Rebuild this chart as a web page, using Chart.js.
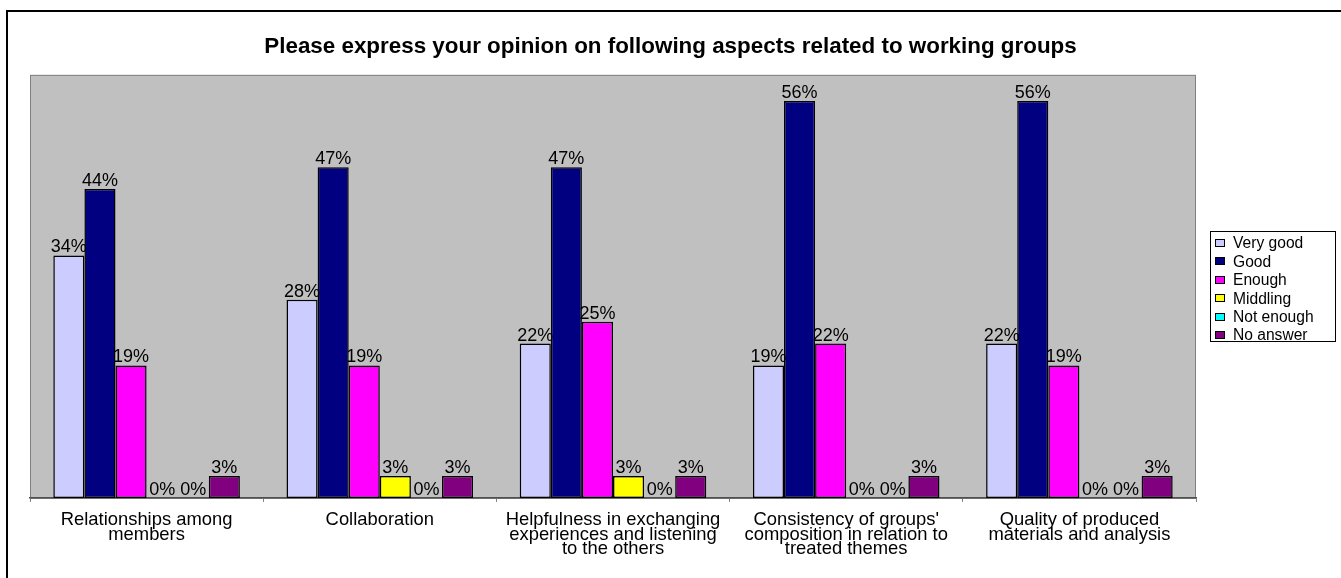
<!DOCTYPE html>
<html>
<head>
<meta charset="utf-8">
<script src="https://cdn.jsdelivr.net/npm/chart.js@4/dist/chart.umd.min.js"></script>
<style>
    html, body { margin: 0; padding: 0; background: #fff; }
    #wrap { position: relative; width: 1341px; height: 578px; }
</style>
</head>
<body>
<div id="wrap"><canvas id="opinionChart"></canvas></div>
<script>
const categories = [
    ['Relationships among', 'members'],
    'Collaboration',
    ['Helpfulness in exchanging', 'experiences and listening', 'to the others'],
    ['Consistency of groups\'', 'composition in relation to', 'treated themes'],
    ['Quality of produced', 'materials and analysis']
];

const seriesNames = ['Very good', 'Good', 'Enough', 'Middling', 'Not enough', 'No answer'];
const seriesColors = ['#CCCCFF', '#000080', '#FF00FF', '#FFFF00', '#00FFFF', '#800080'];

// percentages (labels show the rounded value)
const veryGood = [34.4, 28.1, 21.9, 18.8, 21.9];
const good = [43.8, 46.9, 46.9, 56.3, 56.3];
const enough = [18.8, 18.8, 25.0, 21.9, 18.8];
const middling = [0, 3.1, 3.1, 0, 0];
const notEnough = [0, 0, 0, 0, 0];
const noAnswer = [3.1, 3.1, 3.1, 3.1, 3.1];

const seriesValues = [veryGood, good, enough, middling, notEnough, noAnswer];

const FONT = 'Arial, "Liberation Sans", sans-serif';

// outer frame + grey plot area
const backdropPlugin = {
    id: 'backdrop',
    beforeDraw(chart) {
        const ctx = chart.ctx;
        const a = chart.chartArea;
        ctx.save();
        ctx.strokeStyle = '#000';
        ctx.lineWidth = 2;
        ctx.strokeRect(7, 11, 1400, 1000);
        ctx.fillStyle = '#C0C0C0';
        ctx.fillRect(a.left, a.top, a.right - a.left, a.bottom - a.top);
        ctx.strokeStyle = '#808080';
        ctx.lineWidth = 1;
        ctx.strokeRect(a.left + 0.5, a.top + 0.5, a.right - a.left - 1, a.bottom - a.top);
        ctx.restore();
    }
};

// value labels above each bar
const valueLabelPlugin = {
    id: 'valueLabels',
    afterDatasetsDraw(chart) {
        const ctx = chart.ctx;
        ctx.save();
        ctx.font = '18px ' + FONT;
        ctx.fillStyle = '#000';
        ctx.textAlign = 'center';
        ctx.textBaseline = 'alphabetic';
        chart.data.datasets.forEach((ds, i) => {
            chart.getDatasetMeta(i).data.forEach((bar, j) => {
                ctx.fillText(Math.round(ds.data[j]) + '%', bar.x, bar.y - 3);
            });
        });
        ctx.restore();
    }
};

// boxed legend to the right of the plot area
const boxLegendPlugin = {
    id: 'boxLegend',
    afterDraw(chart) {
        const ctx = chart.ctx;
        const a = chart.chartArea;
        const w = 125, h = 110, rowH = 18.4;
        const left = a.right + 14;
        const top = Math.round((a.top + a.bottom) / 2 - h / 2);
        ctx.save();
        ctx.fillStyle = '#fff';
        ctx.fillRect(left, top, w, h);
        ctx.strokeStyle = '#000';
        ctx.lineWidth = 1;
        ctx.strokeRect(left + 0.5, top + 0.5, w, h);
        ctx.font = '15.6px ' + FONT;
        ctx.textBaseline = 'middle';
        chart.data.datasets.forEach((ds, i) => {
            const cy = top + 12 + i * rowH;
            ctx.fillStyle = ds.backgroundColor;
            ctx.fillRect(left + 5, Math.round(cy) - 4, 10, 8);
            ctx.strokeStyle = '#000';
            ctx.strokeRect(left + 5.5, Math.round(cy) - 3.5, 9, 7);
            ctx.fillStyle = '#000';
            ctx.fillText(ds.label, left + 23, cy + 1);
        });
        ctx.restore();
    }
};

const datasets = seriesNames.map((name, i) => ({
    label: name,
    data: seriesValues[i],
    backgroundColor: seriesColors[i],
    borderColor: '#000',
    borderWidth: 1.5,
    borderSkipped: false,
    categoryPercentage: 0.8,
    barPercentage: 1.0
}));

new Chart(document.getElementById('opinionChart').getContext('2d'), {
    type: 'bar',
    data: {
        labels: categories,
        datasets: datasets
    },
    options: {
        responsive: true,
        maintainAspectRatio: false,
        animation: false,
        layout: {
            padding: { top: 10, bottom: 11, left: 0, right: 0 }
        },
        scales: {
            x: {
                grid: {
                    display: true,
                    offset: true,
                    drawOnChartArea: false,
                    drawTicks: true,
                    tickLength: 4,
                    color: '#808080'
                },
                border: { display: true, color: '#505050', width: 1.5 },
                ticks: {
                    padding: 11,
                    color: '#000',
                    maxRotation: 0,
                    autoSkip: false,
                    font: { family: FONT, size: 18.4, lineHeight: 0.78 }
                }
            },
            y: {
                display: true,
                min: 0,
                max: 60,
                grid: { display: false },
                border: { display: false },
                ticks: { display: false },
                afterFit(scale) { scale.width = 30; }
            },
            yRight: {
                display: true,
                position: 'right',
                grid: { display: false },
                border: { display: false },
                ticks: { display: false },
                afterFit(scale) { scale.width = 145; }
            }
        },
        plugins: {
            legend: { display: false },
            tooltip: { enabled: false },
            title: {
                display: true,
                text: 'Please express your opinion on following aspects related to working groups',
                color: '#000',
                font: { family: FONT, size: 22.4, weight: 'bold' },
                padding: { top: 23, bottom: 15 }
            }
        }
    },
    plugins: [backdropPlugin, valueLabelPlugin, boxLegendPlugin]
});
</script>
</body>
</html>
